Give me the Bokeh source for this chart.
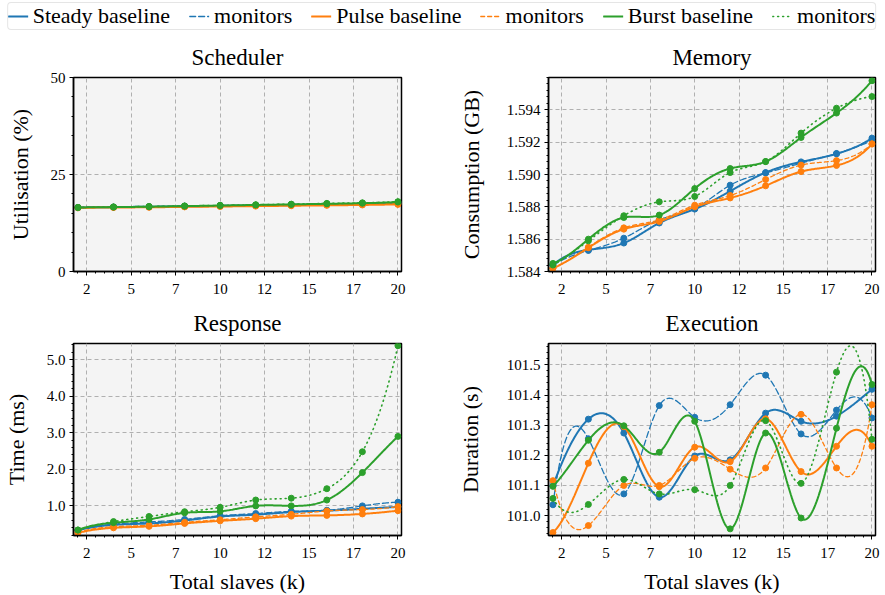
import numpy as np
from bokeh.plotting import figure
from bokeh.models import Range1d, FixedTicker, Legend, LegendItem
from bokeh.layouts import column, row
from bokeh.embed import file_html
from bokeh.resources import INLINE

# ---------------- data ----------------
slaves_k = [2, 4, 6, 8, 10, 12, 14, 16, 18, 20]
x_ticks = [2.5, 5, 7.5, 10, 12.5, 15, 17.5, 20]
x_tick_labels = ["2", "5", "7", "10", "12", "15", "17", "20"]

# Scheduler utilisation (%)
sched_steady_base = [16.5, 16.6, 16.7, 16.8, 16.9, 17.0, 17.1, 17.25, 17.35, 17.5]
sched_steady_mon = [16.5, 16.6, 16.7, 16.85, 17.0, 17.1, 17.25, 17.4, 17.55, 17.8]
sched_pulse_base = [16.4, 16.5, 16.55, 16.65, 16.75, 16.85, 16.95, 17.05, 17.15, 17.3]
sched_pulse_mon = [16.45, 16.55, 16.65, 16.75, 16.9, 17.0, 17.1, 17.2, 17.35, 17.5]
sched_burst_base = [16.5, 16.6, 16.7, 16.85, 17.0, 17.15, 17.3, 17.45, 17.6, 17.9]
sched_burst_mon = [16.5, 16.65, 16.75, 16.9, 17.05, 17.2, 17.35, 17.55, 17.7, 18.0]

# Memory consumption (GB)
mem_steady_base = [1.5844, 1.58534, 1.58576, 1.5870, 1.58786, 1.58897, 1.59012, 1.59078, 1.59128, 1.59225]
mem_steady_mon = [1.5844, 1.5853, 1.58606, 1.5872, 1.5879, 1.58934, 1.5901, 1.5907, 1.5913, 1.5921]
mem_pulse_base = [1.5842, 1.58547, 1.58662, 1.5871, 1.5880, 1.58855, 1.5893, 1.59018, 1.59056, 1.59188]
mem_pulse_mon = [1.5842, 1.5855, 1.5867, 1.5872, 1.5881, 1.5887, 1.58969, 1.59058, 1.59086, 1.5919]
mem_burst_base = [1.5845, 1.5860, 1.58734, 1.58749, 1.58913, 1.59037, 1.5908, 1.59229, 1.5938, 1.5958]
mem_burst_mon = [1.5844, 1.5859, 1.58745, 1.58831, 1.58864, 1.59012, 1.5908, 1.59256, 1.5941, 1.59482]

# Response time (ms)
resp_steady_base = [0.33, 0.48, 0.52, 0.60, 0.71, 0.76, 0.83, 0.87, 0.92, 0.97]
resp_steady_mon = [0.33, 0.50, 0.56, 0.63, 0.73, 0.79, 0.85, 0.88, 1.00, 1.10]
resp_pulse_base = [0.26, 0.40, 0.44, 0.52, 0.59, 0.65, 0.72, 0.74, 0.78, 0.87]
resp_pulse_mon = [0.28, 0.43, 0.47, 0.55, 0.62, 0.70, 0.77, 0.86, 0.90, 0.98]
resp_burst_base = [0.34, 0.54, 0.63, 0.81, 0.85, 1.00, 1.00, 1.16, 1.91, 2.90]
resp_burst_mon = [0.34, 0.57, 0.71, 0.84, 0.96, 1.16, 1.21, 1.47, 2.48, 5.38]

# Execution duration (s)
exec_steady_base = [101.099, 101.32, 101.274, 101.061, 101.198, 101.185, 101.34, 101.313, 101.33, 101.419]
exec_steady_mon = [101.036, 101.255, 101.072, 101.365, 101.326, 101.368, 101.466, 101.271, 101.35, 101.324]
exec_pulse_base = [100.944, 101.174, 101.295, 101.096, 101.227, 101.179, 101.321, 101.146, 101.23, 101.23]
exec_pulse_mon = [101.116, 100.967, 101.10, 101.10, 101.19, 101.154, 101.158, 101.336, 101.158, 101.368]
exec_burst_base = [101.097, 101.25, 101.298, 101.21, 101.313, 100.956, 101.274, 100.992, 101.29, 101.435]
exec_burst_mon = [101.057, 101.037, 101.12, 101.072, 101.086, 101.1, 101.315, 101.107, 101.476, 101.253]

series_labels = ["Steady baseline", "monitors", "Pulse baseline", "monitors", "Burst baseline", "monitors"]
colors = ["#1f77b4", "#1f77b4", "#ff7f0e", "#ff7f0e", "#2ca02c", "#2ca02c"]
dashes = ["solid", "6 3", "solid", "4 3", "solid", "1 4"]
widths = [2.0, 1.3, 2.0, 1.3, 2.0, 1.6]

FONT = "Liberation Serif"


def spline(xs, ys, n=300):
    x = np.asarray(xs, float)
    y = np.asarray(ys, float)
    N = len(x)
    h = np.diff(x)
    A = np.zeros((N, N))
    b = np.zeros(N)
    A[0, 0], A[0, 1], A[0, 2] = -h[1], h[0] + h[1], -h[0]
    A[-1, -3], A[-1, -2], A[-1, -1] = -h[-1], h[-2] + h[-1], -h[-2]
    for i in range(1, N - 1):
        A[i, i - 1] = h[i - 1]
        A[i, i] = 2 * (h[i - 1] + h[i])
        A[i, i + 1] = h[i]
        b[i] = 6 * ((y[i + 1] - y[i]) / h[i] - (y[i] - y[i - 1]) / h[i - 1])
    M = np.linalg.solve(A, b)
    xx = np.linspace(x[0], x[-1], n)
    idx = np.clip(np.searchsorted(x, xx) - 1, 0, N - 2)
    x0, x1 = x[idx], x[idx + 1]
    hh = x1 - x0
    m0, m1 = M[idx], M[idx + 1]
    y0, y1 = y[idx], y[idx + 1]
    yy = (m0 * (x1 - xx) ** 3 / (6 * hh) + m1 * (xx - x0) ** 3 / (6 * hh)
          + (y0 / hh - m0 * hh / 6) * (x1 - xx) + (y1 / hh - m1 * hh / 6) * (xx - x0))
    return xx, yy


def make_panel(title, ylabel, yrange, yticks, ylabels, yminor, series,
               left_col, top_row, y_standoff):
    if left_col:
        mb_l, fw, mb_r = 73, 328, 39
    else:
        mb_l, fw, mb_r = 108, 327, 8
    if top_row:
        mb_t, fh, mb_b = 46, 194, 29
    else:
        mb_t, fh, mb_b = 43, 192, 58
    p = figure(frame_width=fw, frame_height=fh, min_border_left=mb_l, min_border_right=mb_r,
               min_border_top=mb_t, min_border_bottom=mb_b,
               x_range=Range1d(1.75, 20.2), y_range=Range1d(*yrange),
               toolbar_location=None, output_backend="svg", title=title)
    p.title.align = "center"
    p.title.text_font = FONT
    p.title.text_font_size = "23px"
    p.title.text_font_style = "normal"
    p.title.text_color = "black"
    p.title.standoff = 15
    p.background_fill_color = "#f4f4f4"
    p.border_fill_color = "white"
    p.outline_line_color = "black"
    p.outline_line_width = 1.5
    p.outline_line_alpha = 1.0

    xminor = list(np.arange(2.0, 20.01, 0.5))
    p.xaxis.ticker = FixedTicker(ticks=x_ticks, minor_ticks=xminor)
    p.xaxis.major_label_overrides = {t: l for t, l in zip(x_ticks, x_tick_labels)}
    p.yaxis.ticker = FixedTicker(ticks=yticks, minor_ticks=yminor)
    p.yaxis.major_label_overrides = {t: l for t, l in zip(yticks, ylabels)}

    for ax in (p.xaxis, p.yaxis):
        ax.axis_line_color = "black"
        ax.axis_line_width = 1.5
        ax.major_tick_line_color = "black"
        ax.minor_tick_line_color = "black"
        ax.major_tick_out = 4
        ax.major_tick_in = 0
        ax.minor_tick_out = 2
        ax.minor_tick_in = 0
        ax.major_label_text_font = FONT
        ax.major_label_text_font_size = "15px"
        ax.major_label_text_color = "black"
        ax.axis_label_text_font = FONT
        ax.axis_label_text_font_size = "22px"
        ax.axis_label_text_font_style = "normal"
        ax.axis_label_text_color = "black"
    p.yaxis.axis_label = ylabel
    p.yaxis.axis_label_standoff = y_standoff
    p.yaxis.major_label_standoff = 4
    p.xaxis.major_label_standoff = 8
    if not top_row:
        p.xaxis.axis_label = "Total slaves (k)"
        p.xaxis.axis_label_standoff = 8

    for g in (p.xgrid, p.ygrid):
        g.grid_line_color = "#b0b0b0"
        g.grid_line_dash = "4 3"
        g.grid_line_width = 1

    for vals, c, d, w in zip(series, colors, dashes, widths):
        xx, yy = spline(slaves_k, vals)
        p.line(xx, yy, line_color=c, line_dash=d, line_width=w, line_cap="round")
        p.scatter(slaves_k, vals, size=6, fill_color=c, line_color=c, marker="circle")
    return p


sched = make_panel("Scheduler", "Utilisation (%)", (0, 50), [0, 25, 50], ["0", "25", "50"],
                   list(np.arange(0, 50.01, 5)),
                   [sched_steady_base, sched_steady_mon, sched_pulse_base, sched_pulse_mon,
                    sched_burst_base, sched_burst_mon], True, True, 15)
mem_ticks = [1.584, 1.586, 1.588, 1.590, 1.592, 1.594]
mem = make_panel("Memory", "Consumption (GB)", (1.584, 1.596), mem_ticks,
                 ["1.584", "1.586", "1.588", "1.590", "1.592", "1.594"],
                 list(np.arange(1.584, 1.59601, 0.0004)),
                 [mem_steady_base, mem_steady_mon, mem_pulse_base, mem_pulse_mon,
                  mem_burst_base, mem_burst_mon], False, True, 20)
resp = make_panel("Response", "Time (ms)", (0.19, 5.44), [1, 2, 3, 4, 5],
                  ["1.0", "2.0", "3.0", "4.0", "5.0"],
                  list(np.arange(0.2, 5.44, 0.2)),
                  [resp_steady_base, resp_steady_mon, resp_pulse_base, resp_pulse_mon,
                   resp_burst_base, resp_burst_mon], True, False, 15)
exe = make_panel("Execution", "Duration (s)", (100.934, 101.571),
                 [101.0, 101.1, 101.2, 101.3, 101.4, 101.5],
                 ["101.0", "101.1", "101.2", "101.3", "101.4", "101.5"],
                 list(np.arange(100.94, 101.571, 0.02)),
                 [exec_steady_base, exec_steady_mon, exec_pulse_base, exec_pulse_mon,
                  exec_burst_base, exec_burst_mon], False, False, 21)

# legend strip (dummy renderers with no visible data, only for the legend glyphs)
leg = figure(width=883, height=31, x_range=Range1d(0, 1), y_range=Range1d(0, 1),
             toolbar_location=None, output_backend="svg", min_border=0)
leg.outline_line_color = None
leg.axis.visible = False
leg.grid.visible = False
items = []
for lab, c, d, w in zip(series_labels, colors, dashes, widths):
    r = leg.line(x=np.array([0.0, 1.0]), y=np.array([np.nan, np.nan]),
                 line_color=c, line_dash=d, line_width=w, line_cap="round")
    items.append(LegendItem(label=lab, renderers=[r]))
legend = Legend(items=items, orientation="horizontal", location="top_center",
                label_text_font=FONT, label_text_font_size="22px", label_text_color="black",
                glyph_width=20, glyph_height=16, label_height=18, label_standoff=5,
                spacing=19, padding=0, margin=2,
                border_line_color="#cccccc", border_line_width=1.2, border_radius=4,
                background_fill_color="white", background_fill_alpha=1.0)
leg.add_layout(legend, "center")

layout = column(leg, row(sched, mem), row(resp, exe))
open("out.html", "w").write(file_html(layout, INLINE))
